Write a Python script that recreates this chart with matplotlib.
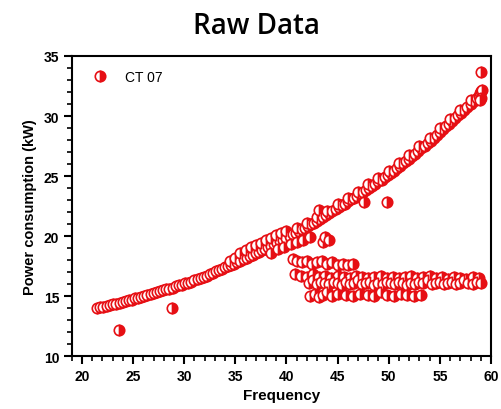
import matplotlib
matplotlib.use("Agg")
import matplotlib.pyplot as plt
from matplotlib.ticker import MultipleLocator

# main curve (lower edge of the band)
curve_x = [21.5, 21.8, 22.1, 22.4, 22.7, 23.0, 23.3, 23.7, 24.0, 24.3, 24.6, 24.9, 25.2, 25.5, 25.8,
           26.1, 26.4, 26.7, 27.0, 27.3, 27.6, 27.9, 28.2, 28.5, 28.9, 29.2, 29.5, 29.8, 30.1, 30.4,
           30.7, 31.0, 31.3, 31.6, 31.9, 32.2, 32.5, 32.8, 33.1, 33.4, 33.7, 34.0, 34.3, 34.6, 34.9,
           35.2, 35.5, 35.8, 36.1, 36.4, 36.7, 37.0, 37.3, 37.6, 37.9, 38.2, 38.5, 38.8, 39.1, 39.4,
           39.7, 40.0, 40.3, 40.6, 40.9, 41.2, 41.5, 41.8, 42.1, 42.4, 42.7, 43.0, 43.3, 43.6, 43.9,
           44.2, 44.5, 44.8, 45.1, 45.4, 45.7, 46.0, 46.3, 46.6, 46.9, 47.2, 47.5, 47.8, 48.1, 48.4,
           48.7, 49.0, 49.3, 49.6, 49.9, 50.2, 50.5, 50.8, 51.1, 51.4, 51.7, 52.0, 52.3, 52.6, 52.9,
           53.2, 53.5, 53.8, 54.1, 54.4, 54.7, 55.0, 55.3, 55.6, 55.9, 56.2, 56.5, 56.8, 57.1, 57.4,
           57.7, 58.0, 58.3, 58.6, 58.8, 58.9, 59.0, 59.1, 59.0, 58.9]
curve_y = [14.0, 14.05, 14.1, 14.2, 14.25, 14.3, 14.35, 14.45, 14.5, 14.6, 14.65, 14.7, 14.8, 14.85, 14.95,
           15.0, 15.1, 15.2, 15.25, 15.3, 15.4, 15.5, 15.55, 15.6, 15.7, 15.8, 15.9, 15.95, 16.05, 16.1,
           16.2, 16.3, 16.4, 16.5, 16.6, 16.7, 16.8, 16.9, 17.05, 17.15, 17.25, 17.4, 17.5, 17.6, 17.7,
           17.85, 17.95, 18.1, 18.2, 18.3, 18.45, 18.55, 18.7, 18.8, 18.95, 19.1, 19.2, 19.35, 19.45, 19.6,
           19.7, 19.85, 20.0, 20.15, 20.25, 20.4, 20.55, 20.7, 20.85, 21.0, 21.1, 21.25, 21.4, 21.6, 21.75,
           21.9, 22.1, 22.25, 22.4, 22.55, 22.7, 22.9, 23.05, 23.2, 23.35, 23.55, 23.7, 23.85, 24.0, 24.2,
           24.35, 24.55, 24.7, 24.9, 25.1, 25.25, 25.45, 25.65, 25.85, 26.05, 26.25, 26.45, 26.65, 26.85, 27.05,
           27.3, 27.5, 27.75, 27.95, 28.2, 28.45, 28.65, 28.9, 29.15, 29.35, 29.6, 29.8, 30.05, 30.25, 30.5,
           30.75, 31.0, 31.25, 31.5, 31.7, 31.9, 32.1, 32.2, 31.5, 31.3]

# upper edge of the band
upper_x = [34.5, 35.0, 35.5, 36.0, 36.5, 37.0, 37.5, 38.0, 38.5, 39.0, 39.5, 40.0, 41.0, 42.0, 43.0,
           44.0, 45.0, 46.0, 47.0, 48.0, 49.0, 50.0, 51.0, 52.0, 53.0, 54.0, 55.0, 56.0, 57.0, 58.0]
upper_y = [17.9, 18.2, 18.6, 18.85, 19.05, 19.25, 19.45, 19.65, 19.85, 20.05, 20.25, 20.4, 20.65, 21.1, 21.55,
           22.1, 22.65, 23.2, 23.7, 24.3, 24.85, 25.45, 26.1, 26.75, 27.5, 28.2, 29.0, 29.75, 30.5, 31.3]

# points leaving the curve towards the lower branch
drop_x = [38.5, 39.2, 39.8, 40.4, 41.0, 41.6, 42.3, 43.6, 43.8, 44.2]
drop_y = [18.6, 18.9, 19.1, 19.3, 19.5, 19.7, 19.9, 19.5, 19.9, 19.7]

# lower branch rows
row_a_x = [40.6, 41.0, 41.5, 42.0, 42.5, 43.0, 43.5, 44.0, 44.5, 45.0, 45.5, 46.0, 46.5]
row_a_y = [18.1, 17.9, 17.8, 17.9, 17.7, 17.8, 17.9, 17.7, 17.8, 17.6, 17.7, 17.6, 17.7]

row_b_x = [40.8, 41.4, 42.0, 42.6, 43.2, 43.8, 44.4, 45.0, 45.6, 46.2, 46.8, 47.4, 48.0, 48.6, 49.2, 49.8,
           50.4, 51.0, 51.6, 52.2, 52.8, 53.4, 54.0, 54.6, 55.2, 55.8, 56.4, 57.0, 57.6, 58.2, 58.8]
row_b_y = [16.8, 16.7, 16.6, 16.8, 16.6, 16.7, 16.5, 16.7, 16.6, 16.5, 16.7, 16.6, 16.5, 16.6, 16.7, 16.5,
           16.6, 16.5, 16.6, 16.7, 16.5, 16.6, 16.7, 16.5, 16.6, 16.4, 16.6, 16.5, 16.4, 16.6, 16.5]

row_c_x = [42.2, 42.6, 43.0, 43.4, 43.8, 44.2, 44.6, 45.0, 45.4, 45.8, 46.2, 46.6, 47.0, 47.4, 47.8, 48.2,
           48.6, 49.0, 49.4, 49.8, 50.2, 50.6, 51.0, 51.4, 51.8, 52.2, 52.6, 53.0, 53.4, 53.8, 54.2, 54.6,
           55.0, 55.4, 55.8, 56.2, 56.6, 57.0, 57.4, 57.8, 58.2, 58.6, 59.0]
row_c_y = [16.1, 16.3, 16.0, 16.2, 16.1, 16.0, 16.2, 16.1, 15.9, 16.2, 16.0, 16.1, 16.3, 16.0, 16.1, 16.2,
           15.9, 16.1, 16.0, 16.2, 16.1, 16.0, 16.2, 16.1, 15.9, 16.1, 16.0, 16.2, 16.1, 16.3, 16.0, 16.1,
           16.2, 16.0, 16.1, 16.2, 16.0, 16.1, 16.3, 16.1, 16.0, 16.2, 16.1]

row_d_x = [42.3, 42.8, 43.2, 43.6, 44.0, 44.5, 45.0, 45.8, 46.5, 47.2, 48.0, 48.6, 49.2, 49.8, 50.5,
           51.2, 51.8, 52.5, 53.2]
row_d_y = [15.0, 15.2, 14.9, 15.1, 15.3, 15.0, 15.2, 15.1, 15.0, 15.2, 15.1, 15.0, 15.3, 15.1, 15.0,
           15.2, 15.1, 15.0, 15.1]

# isolated points
out_x = [23.6, 28.8, 43.2, 47.6, 49.8, 59.0]
out_y = [12.2, 14.0, 22.2, 22.8, 22.8, 33.7]

all_x = curve_x + upper_x + drop_x + row_a_x + row_b_x + row_c_x + row_d_x + out_x
all_y = curve_y + upper_y + drop_y + row_a_y + row_b_y + row_c_y + row_d_y + out_y

plt.rcParams['font.family'] = ['Liberation Sans', 'DejaVu Sans']

fig = plt.figure(figsize=(5.02, 4.10), dpi=100)
ax = fig.add_axes([0.143, 0.129, 0.835, 0.732])

ax.plot(all_x, all_y, linestyle='none', marker='o', markersize=7.5,
        fillstyle='right', markerfacecolor='#e60f14', markerfacecoloralt='white',
        markeredgecolor='#e60f14', markeredgewidth=1.2, label='CT 07')

ax.set_xlim(19, 60)
ax.set_ylim(10, 35)
ax.xaxis.set_major_locator(MultipleLocator(5))
ax.xaxis.set_minor_locator(MultipleLocator(1))
ax.yaxis.set_major_locator(MultipleLocator(5))
ax.yaxis.set_minor_locator(MultipleLocator(1))
ax.tick_params(which='major', direction='out', length=5.5, width=1.5, labelsize=10)
ax.tick_params(which='minor', direction='out', length=3.5, width=1.2)
for lbl in ax.get_xticklabels() + ax.get_yticklabels():
    lbl.set_fontweight('bold')
for sp in ax.spines.values():
    sp.set_linewidth(1.5)

ax.set_xlabel('Frequency', fontsize=11, fontweight='bold', labelpad=4)
ax.set_ylabel('Power consumption (kW)', fontsize=10.5, fontweight='bold', labelpad=5)

ax.legend(loc='upper left', frameon=False, fontsize=10, handletextpad=0.8,
          borderaxespad=0.6, markerscale=1.0)

fig.text(0.51, 0.935, 'Raw Data', ha='center', va='center', fontsize=20,
         fontweight='semibold', family=['Open Sans', 'DejaVu Sans'])

fig.savefig('out.png', dpi=100)
